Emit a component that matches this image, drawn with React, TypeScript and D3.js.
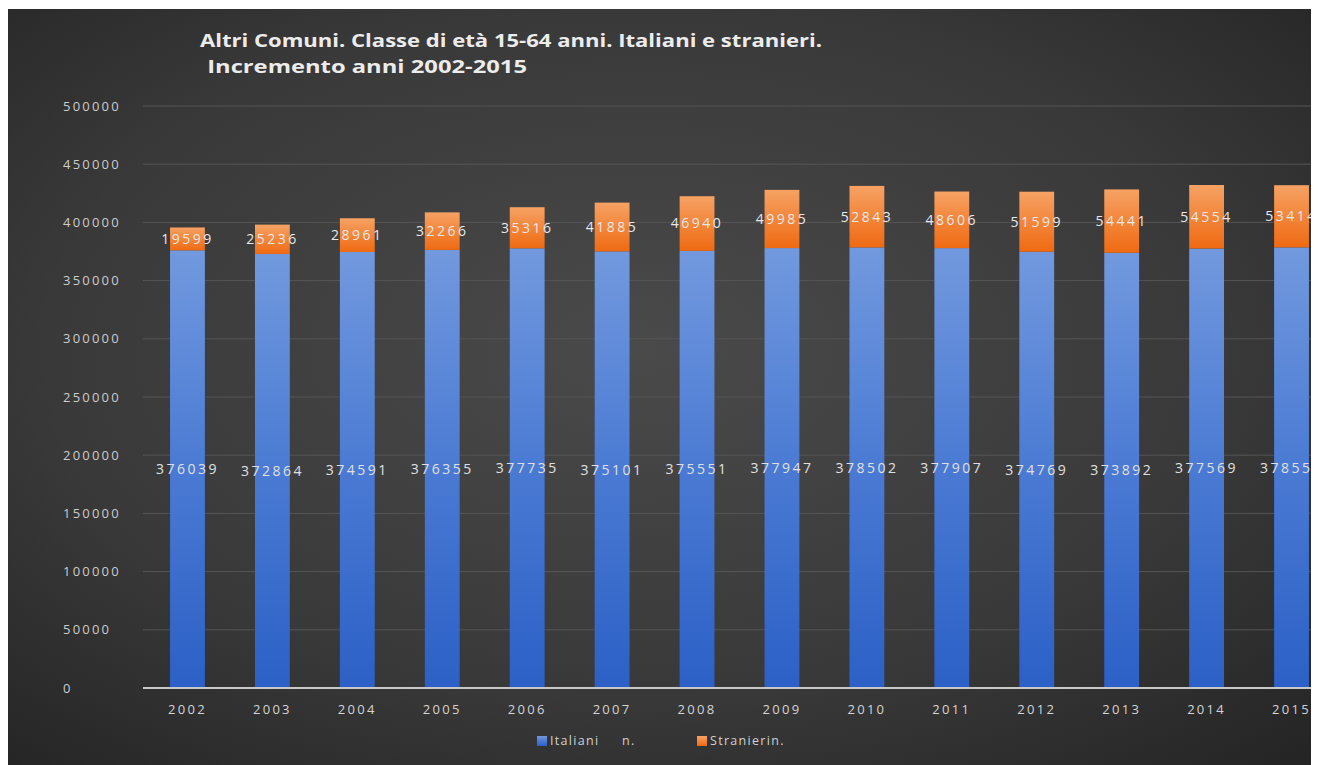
import React from "react";
import * as d3 from "d3";

const years = ["2002","2003","2004","2005","2006","2007","2008","2009","2010","2011","2012","2013","2014","2015"];
const italiani = [376039,372864,374591,376355,377735,375101,375551,377947,378502,377907,374769,373892,377569,378550];
const stranieri = [19599,25236,28961,32266,35316,41885,46940,49985,52843,48606,51599,54441,54554,53414];
const yTicks = [0,50000,100000,150000,200000,250000,300000,350000,400000,450000,500000];
const seriesNames = ["Italiani     n.", "Stranierin."];
const titleLines = ["Altri Comuni. Classe di età 15-64 anni. Italiani e stranieri.", " Incremento anni 2002-2015"];

export default function App() {
  const W = 1311, H = 757;
  const x = d3.scaleBand<string>().domain(years).range([145, 1334]).paddingInner(0.59).paddingOuter(0.295);
  const y = d3.scaleLinear().domain([0, 500000]).range([688, 106]);
  const font = "'Open Sans', 'DejaVu Sans', sans-serif";
  const bw = x.bandwidth();
  return (
    <svg width={W} height={H} style={{ display: "block" }}>
      <defs>
        <radialGradient id="bg" cx="0.48" cy="0.45" r="0.75">
          <stop offset="0" stopColor="#4a4a4a" />
          <stop offset="0.6" stopColor="#393939" />
          <stop offset="1" stopColor="#242424" />
        </radialGradient>
        <linearGradient id="gBlue" x1="0" y1="0" x2="0" y2="1">
          <stop offset="0" stopColor="#7299de" />
          <stop offset="0.5" stopColor="#4a7ad3" />
          <stop offset="1" stopColor="#2c60c6" />
        </linearGradient>
        <linearGradient id="gOrange" x1="0" y1="0" x2="0" y2="1">
          <stop offset="0" stopColor="#f6a264" />
          <stop offset="1" stopColor="#ef6a12" />
        </linearGradient>
      </defs>
      <g transform="translate(-8,-8)">
        <rect x={8} y={9} width={W} height={H} fill="url(#bg)" />
        {titleLines.map((t, i) => (
          <text key={i} x={i === 0 ? 200 : 201} y={i === 0 ? 47 : 73} fill="#ececec" fontFamily={font}
            fontWeight="bold" fontSize={17.5} xmlSpace="preserve" textLength={i === 0 ? 622 : 326} lengthAdjust="spacingAndGlyphs">{t}</text>
        ))}
        {yTicks.map((t) => (
          <g key={t}>
            {t > 0 && <line x1={143} x2={1334} y1={y(t)} y2={y(t)} stroke="#555" strokeWidth={1} />}
            <text x={63} y={y(t)} dy="0.35em" fill="#cccccc" fontFamily={font} fontSize={13} letterSpacing={2.2}>{t}</text>
          </g>
        ))}
        {years.map((yr, i) => {
          const x0 = x(yr)!;
          const cx = x0 + bw / 2;
          const yi = y(italiani[i]);
          const ys = y(italiani[i] + stranieri[i]);
          return (
            <g key={yr}>
              <rect x={x0} y={yi} width={bw} height={y(0) - yi} fill="url(#gBlue)" />
              <rect x={x0} y={ys} width={bw} height={yi - ys} fill="url(#gOrange)" />
              <text x={cx} y={(yi + y(0)) / 2} dy="0.35em" textAnchor="middle" fill="#e0e0e0" fontFamily={font} fontSize={14} letterSpacing={2.5}>{italiani[i]}</text>
              <text x={cx} y={(ys + yi) / 2} dy="0.35em" textAnchor="middle" fill="#e8e8e8" fontFamily={font} fontSize={14} letterSpacing={2.5}>{stranieri[i]}</text>
              <text x={cx} y={709} dy="0.35em" textAnchor="middle" fill="#d4d4d4" fontFamily={font} fontSize={13} letterSpacing={2.3}>{yr}</text>
            </g>
          );
        })}
        <line x1={143} x2={1334} y1={y(0)} y2={y(0)} stroke="#c8c8c8" strokeWidth={2} />
        <rect x={537} y={736} width={10} height={10} fill="url(#gBlue)" />
        <text x={550} y={741} dy="0.35em" fill="#d0d0d0" fontFamily={font} fontSize={12.5} letterSpacing={1.3} xmlSpace="preserve">{seriesNames[0]}</text>
        <rect x={697} y={736} width={10} height={10} fill="url(#gOrange)" />
        <text x={710} y={741} dy="0.35em" fill="#d0d0d0" fontFamily={font} fontSize={12.5} letterSpacing={1.3}>{seriesNames[1]}</text>
      </g>
    </svg>
  );
}
